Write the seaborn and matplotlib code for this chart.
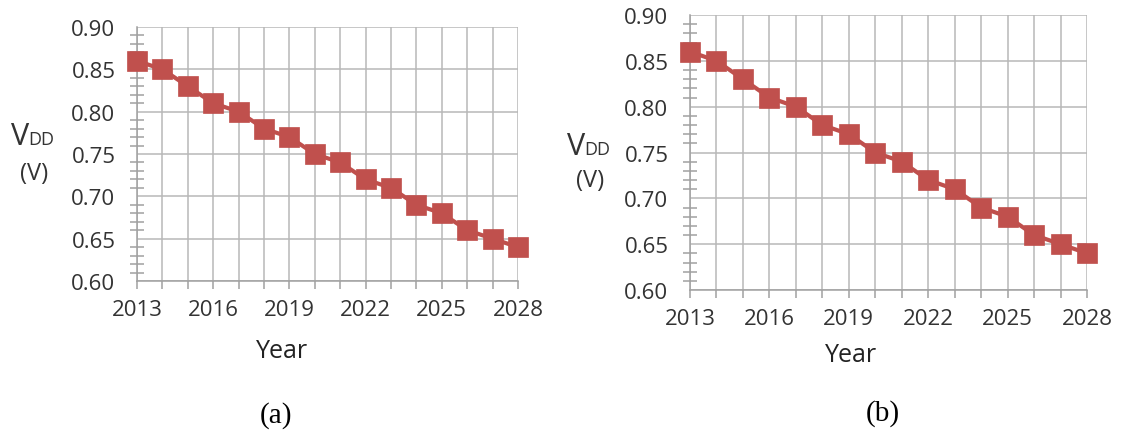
import numpy as np
import pandas as pd
import matplotlib
matplotlib.use('Agg')
import matplotlib.pyplot as plt
import seaborn as sns
from matplotlib.ticker import MultipleLocator

years = list(range(2013, 2029))
vdd = [0.86, 0.85, 0.83, 0.81, 0.80, 0.78, 0.77, 0.75,
       0.74, 0.72, 0.71, 0.69, 0.68, 0.66, 0.65, 0.64]
year_ticks = [2013, 2016, 2019, 2022, 2025, 2028]
panel_labels = ['(a)', '(b)']

sns.set_style('white')
plt.rcParams['font.family'] = ['Open Sans', 'DejaVu Sans']

W, H = 1124, 435
RED = '#C0504D'
GRID = '#B8B8B8'
TXT = '#333333'

df = pd.DataFrame({'Year': years, 'VDD': vdd})

fig = plt.figure(figsize=(W / 100, H / 100), dpi=100)

# pixel boxes: left, top, right, bottom
boxes = [(137, 28, 518, 282), (690, 16, 1087, 291)]


def px(x, y):
    return x / W, 1 - y / H


def draw_panel(box):
    l, t, r, b = box
    ax = fig.add_axes([l / W, 1 - b / H, (r - l) / W, (b - t) / H])
    sns.lineplot(data=df, x='Year', y='VDD', ax=ax, color=RED, lw=3,
                 marker='s', markersize=15, markeredgecolor=RED,
                 markeredgewidth=0.5, clip_on=False, zorder=5)
    ax.set_xlim(2013, 2028)
    ax.set_ylim(0.60, 0.90)
    ax.set_xticks(year_ticks, minor=False)
    ax.set_xticks(years, minor=True)
    yt = np.arange(0.60, 0.901, 0.05)
    ax.set_yticks(yt)
    ax.set_yticklabels([f'{v:.2f}' for v in yt])
    ax.yaxis.set_minor_locator(MultipleLocator(0.01))
    ax.grid(True, which='major', color=GRID, lw=1.1)
    ax.grid(True, which='minor', axis='x', color=GRID, lw=1.1)
    for s in ['top', 'right']:
        ax.spines[s].set_visible(False)
    for s in ['left', 'bottom']:
        ax.spines[s].set_color('#A0A0A0')
        ax.spines[s].set_linewidth(1.1)
    ax.tick_params(axis='y', which='major', direction='out', length=6.5,
                   width=1.1, color='#A0A0A0', labelsize=16,
                   labelcolor=TXT, pad=9)
    ax.tick_params(axis='y', which='minor', direction='inout', length=9.5,
                   width=1.1, color='#A0A0A0', left=True)
    ax.tick_params(axis='x', which='both', direction='out', length=6,
                   width=1.1, color='#A0A0A0', bottom=True)
    ax.tick_params(axis='x', which='major', labelsize=16,
                   labelcolor=TXT, pad=7)
    ax.set_xlabel('')
    ax.set_ylabel('')
    return ax


for box in boxes:
    draw_panel(box)

# y label "VDD (V)", x label and panel captions (pixel positions)
for (vx, vb, px_x, px_y, yx, yy, cx, cy, lab) in [
        (11, 145, 34, 174, 282, 352, 276, 416, panel_labels[0]),
        (567, 155, 590, 181, 851, 356, 883, 414, panel_labels[1])]:
    fig.text(*px(vx, vb), 'V', fontsize=22, color=TXT,
             ha='left', va='baseline')
    fig.text(*px(vx + 17, vb), 'DD', fontsize=13, color=TXT,
             ha='left', va='baseline')
    fig.text(*px(px_x, px_y), '(V)', fontsize=17, color=TXT,
             ha='center', va='center')
    fig.text(*px(yx, yy), 'Year', fontsize=18, color='#222222',
             ha='center', va='center')
    fig.text(*px(cx, cy), lab, fontsize=21, color='black',
             family='Liberation Serif', ha='center', va='center')

plt.savefig('out.png', dpi=100)
